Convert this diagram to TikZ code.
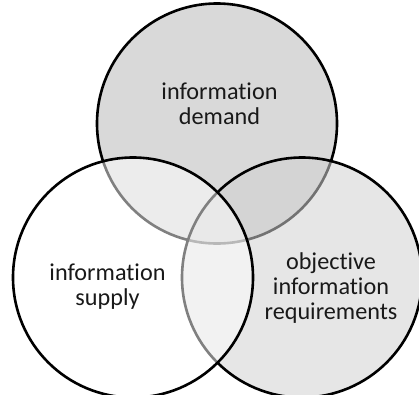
\documentclass[tikz,border=0pt]{standalone}
\usepackage{fontspec}
\setmainfont{Carlito}[Ligatures=NoCommon]
\begin{document}
\begin{tikzpicture}[x=1pt,y=-1pt,
    set/.style={circle,draw=black,line width=2.6pt,minimum size=240pt,inner sep=0pt,outer sep=0pt},
    label/.style={align=center,text=black!90,font=\fontsize{24.2}{25}\selectfont}]
                \useasboundingbox (0,0) rectangle (419,394);
                \clip (0,0) rectangle (419,394);
                % the three sets, drawn back to front
                \node[set,fill=black!15] (demand) at (217,123.5) {};
                \node[set,fill=black!18,fill opacity=0.55] (objective) at (302,277.5) {};
                \node[set,fill=white,fill opacity=0.5] (supply) at (133,277.5) {};
                % their names
                \node[label] (demandtext) at (219.5,104) {information\\demand};
                \node[label] (supplytext) at (107.5,287) {information\\supply};
                \node[label] (objectivetext) at (331,288) {objective\\information\\requirements};
            \end{tikzpicture}
\end{document}
